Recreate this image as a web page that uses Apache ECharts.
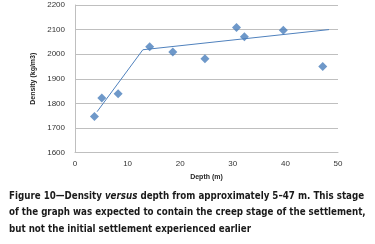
<!DOCTYPE html>
<html>
<head>
<meta charset="utf-8">
<script src="https://cdn.jsdelivr.net/npm/echarts@6/dist/echarts.min.js"></script>
<style>
  html, body { margin: 0; padding: 0; background: #fff; }
  #chart { width: 375px; height: 244px; }
</style>
</head>
<body>
<div id="chart"></div>
<script>
// measured points: depth (m) and density (kg/m3)
var depth = [3.7, 5.1, 8.2, 14.2, 18.6, 24.7, 30.7, 32.2, 39.6, 47.1];
var density = [1746, 1822, 1839, 2030, 2009, 1981, 2108, 2071, 2097, 1950];
// two-stage trend line
var trendDepth = [4.2, 12.9, 48.3];
var trendDensity = [1766, 2018, 2100];

var yTicks = [1600, 2200, 100];
var xTicks = [0, 50, 10];

var pts = depth.map(function (d, i) { return [d, density[i]]; });
var trend = trendDepth.map(function (d, i) { return [d, trendDensity[i]]; });

var capFont = '"DejaVu Sans Condensed", "Liberation Sans", sans-serif';

var myChart = echarts.init(document.getElementById('chart'));
var option = {
    animation: false,
    grid: { left: 75, right: 37, top: 5, bottom: 91.5 },
    xAxis: {
        type: 'value',
        min: xTicks[0], max: xTicks[1], interval: xTicks[2],
        name: 'Depth (m)',
        nameLocation: 'middle',
        nameGap: 21,
        nameTextStyle: { fontSize: 7, fontWeight: 'bold', color: '#262626', fontFamily: 'Liberation Sans' },
        axisLine: { show: true, lineStyle: { color: '#bfbfbf' } },
        axisTick: { show: false },
        splitLine: { show: false },
        axisLabel: { fontSize: 8, color: '#333', margin: 7, fontFamily: 'Liberation Sans' }
    },
    yAxis: {
        type: 'value',
        min: yTicks[0], max: yTicks[1], interval: yTicks[2],
        name: 'Density (kg/m3)',
        nameLocation: 'middle',
        nameGap: 28,
        nameRotate: 90,
        nameTextStyle: { fontSize: 7, fontWeight: 'bold', color: '#262626', fontFamily: 'Liberation Sans' },
        axisLine: { show: true, lineStyle: { color: '#bfbfbf' } },
        axisTick: { show: false },
        splitLine: { show: true, lineStyle: { color: '#bfbfbf', width: 1 } },
        axisLabel: {
            fontSize: 8, color: '#333', margin: 10, fontFamily: 'Liberation Sans',
            formatter: function (v) { return String(v); }
        }
    },
    graphic: [{
        type: 'text',
        left: 9,
        top: 191,
        style: {
            text: '{b|Figure 10—Density }{i|versus}{b| depth from approximately 5–47 m. This stage}\n' +
                  '{b|of the graph was expected to contain the creep stage of the settlement,}\n' +
                  '{b|but not the initial settlement experienced earlier}',
            rich: {
                b: { fontSize: 9.7, fontWeight: 'bold', fontFamily: capFont, fill: '#1a1a1a', lineHeight: 16.5 },
                i: { fontSize: 9.7, fontWeight: 'bold', fontStyle: 'italic', fontFamily: capFont, fill: '#1a1a1a', lineHeight: 16.5 }
            }
        }
    }],
    series: [
        {
            type: 'line',
            data: trend,
            showSymbol: false,
            symbol: 'none',
            lineStyle: { color: '#4f81bd', width: 1 },
            z: 2
        },
        {
            type: 'scatter',
            data: pts,
            symbol: 'diamond',
            symbolSize: 9,
            itemStyle: { color: '#4a7ebb' },
            z: 3
        }
    ]
};
myChart.setOption(option);
</script>
</body>
</html>
